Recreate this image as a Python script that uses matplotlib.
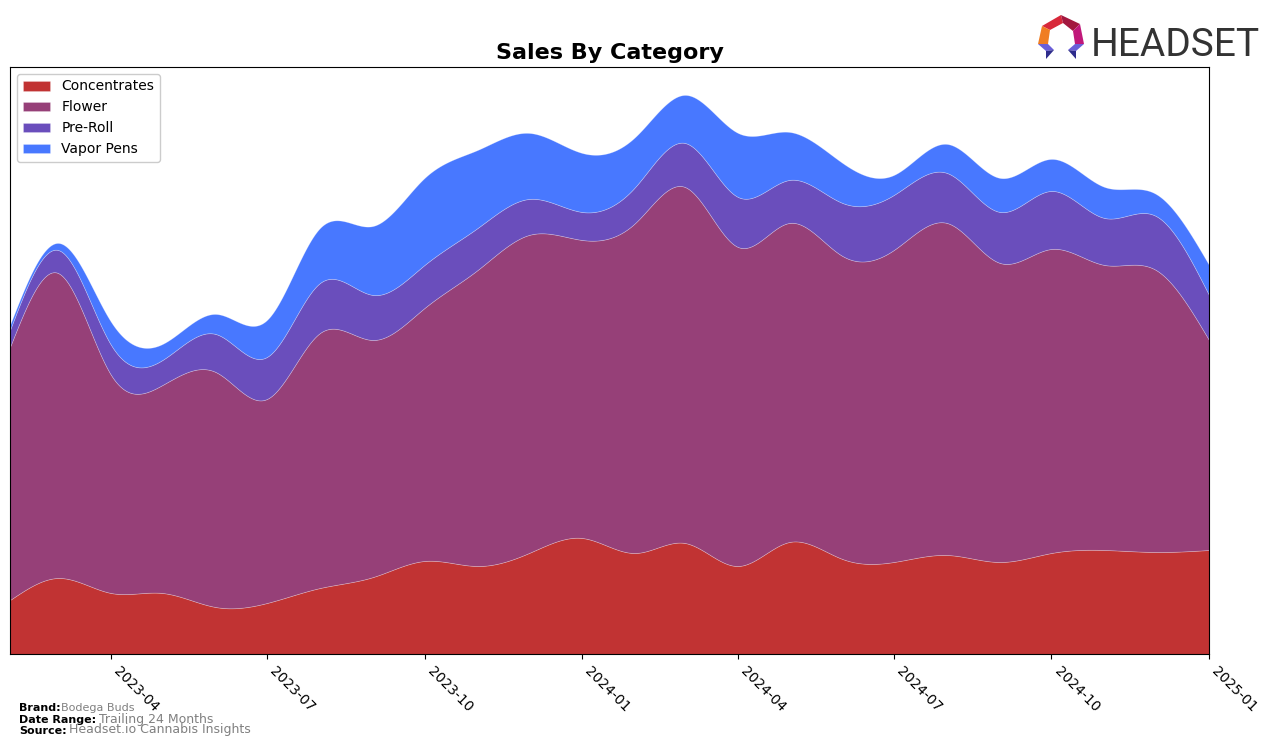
import numpy as np
import pandas as pd
import matplotlib
matplotlib.use("Agg")
import matplotlib.pyplot as plt
import matplotlib.dates as mdates
from matplotlib.patches import Polygon

# ---- data (monthly sales, arbitrary units) ----
months = pd.date_range("2023-02-01", "2025-01-01", freq="MS")
categories = ["Concentrates", "Flower", "Pre-Roll", "Vapor Pens"]
concentrates = [54, 76, 61, 61, 47, 51, 66, 77, 93, 88, 101, 116, 101, 111, 88, 112, 95, 92, 99, 92, 101, 104, 102, 104]
flower = [253, 305, 218, 208, 235, 204, 255, 237, 253, 296, 318, 298, 330, 356, 319, 319, 303, 312, 332, 299, 304, 285, 282, 210]
pre_roll = [17, 23, 30, 25, 38, 42, 50, 45, 43, 42, 36, 28, 36, 44, 50, 43, 53, 55, 50, 51, 58, 47, 54, 45]
vapor_pens = [5, 7, 23, 16, 20, 37, 55, 69, 87, 78, 66, 59, 50, 48, 64, 48, 40, 20, 29, 34, 32, 31, 22, 30]
colors = ["#C13333", "#964078", "#6A4EBC", "#4878FF"]

tick_months = [1, 4, 7, 10]


def natural_spline(x, y, xs):
    x = np.asarray(x, float)
    y = np.asarray(y, float)
    n = len(x)
    h = np.diff(x)
    A = np.zeros((n, n))
    r = np.zeros(n)
    A[0, 0] = 1
    A[-1, -1] = 1
    for i in range(1, n - 1):
        A[i, i - 1] = h[i - 1]
        A[i, i] = 2 * (h[i - 1] + h[i])
        A[i, i + 1] = h[i]
        r[i] = 6 * ((y[i + 1] - y[i]) / h[i] - (y[i] - y[i - 1]) / h[i - 1])
    M = np.linalg.solve(A, r)
    idx = np.clip(np.searchsorted(x, xs) - 1, 0, n - 2)
    x0, x1 = x[idx], x[idx + 1]
    hh = x1 - x0
    a = (x1 - xs) / hh
    b = (xs - x0) / hh
    return (a * y[idx] + b * y[idx + 1]
            + ((a ** 3 - a) * M[idx] + (b ** 3 - b) * M[idx + 1]) * hh ** 2 / 6)


xnum = mdates.date2num(months)
xs = np.linspace(xnum[0], xnum[-1], 1200)
series = [concentrates, flower, pre_roll, vapor_pens]
smooth = [np.clip(natural_spline(xnum, s, xs), 0, None) for s in series]

W, H = 1276, 747
fig = plt.figure(figsize=(W / 100, H / 100), dpi=100)
ax = fig.add_axes([10 / W, 1 - 654 / H, (1209 - 10) / W, (654 - 67) / H])

ax.stackplot(xs, *smooth, labels=categories, colors=colors,
             edgecolor=(1, 1, 1, 0.3), linewidth=0.5)

total = np.sum(smooth, axis=0)
ax.set_xlim(xnum[0], xnum[-1])
ax.set_ylim(0, total.max() * 1.05)
ax.set_yticks([])
ax.xaxis.set_major_locator(mdates.MonthLocator(bymonth=tick_months))
ax.xaxis.set_major_formatter(mdates.DateFormatter("%Y-%m"))
for lab in ax.get_xticklabels():
    lab.set_rotation(-45)
    lab.set_ha("left")
    lab.set_fontsize(10)

ax.set_title("Sales By Category", fontsize=16, fontweight="bold", pad=6)
ax.legend(loc="upper left", fontsize=10, framealpha=1)

# footer
fig.text(19 / W, 1 - 708 / H, "Brand:", fontsize=8, fontweight="bold", va="center")
fig.text(61 / W, 1 - 708 / H, "Bodega Buds", fontsize=8, color="gray", va="center")
fig.text(19 / W, 1 - 720 / H, "Date Range:", fontsize=8, fontweight="bold", va="center")
fig.text(99 / W, 1 - 719 / H, "Trailing 24 Months", fontsize=9, color="gray", va="center")
fig.text(19 / W, 1 - 731 / H, "Source:", fontsize=8, fontweight="bold", va="center")
fig.text(69 / W, 1 - 730 / H, "Headset.io Cannabis Insights", fontsize=9, color="gray", va="center")

# logo
fig.text(1260 / W, 1 - 56 / H, "HEADSET", fontsize=28, color="#333333",
         family=["Roboto", "DejaVu Sans"], va="baseline", ha="right")


def P(pts, c):
    fig.patches.append(Polygon([(px / W, 1 - py / H) for px, py in pts], closed=True,
                               transform=fig.transFigure, facecolor=c, edgecolor="none"))


P([(1042, 26), (1061, 15), (1063, 23), (1050, 30)], "#D8283A")
P([(1061, 15), (1080, 24), (1073, 31), (1063, 23)], "#A3183F")
P([(1080, 24), (1084, 44), (1075, 44), (1073, 31)], "#C0187A")
P([(1042, 26), (1050, 30), (1048, 44), (1038, 44)], "#F07D22")
P([(1038, 44), (1048, 44), (1054, 50), (1046, 51)], "#6A5FD8")
P([(1046, 51), (1054, 50), (1046, 59)], "#2E2C8C")
P([(1075, 44), (1084, 44), (1076, 51), (1068, 50)], "#6A5FD8")
P([(1068, 50), (1076, 51), (1076, 59)], "#2E2C8C")

fig.savefig("out.png", dpi=100)
